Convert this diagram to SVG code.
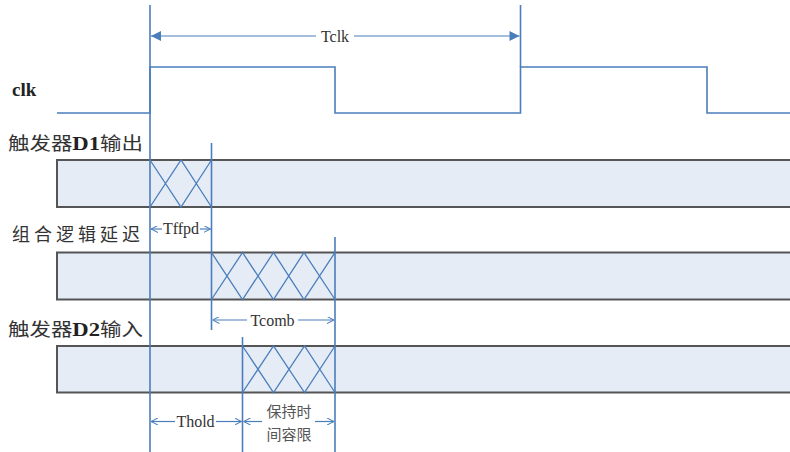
<svg xmlns="http://www.w3.org/2000/svg" width="790" height="452" viewBox="0 0 790 452">
<defs>
<marker id="fa" viewBox="0 0 10 10" refX="10" refY="5" markerWidth="11" markerHeight="10" markerUnits="userSpaceOnUse" orient="auto-start-reverse">
<path d="M0,0 L10,5 L0,10 z" fill="#4a7ebb"/>
</marker>
<marker id="oa" viewBox="0 0 10 10" refX="10" refY="5" markerWidth="7" markerHeight="7" markerUnits="userSpaceOnUse" orient="auto-start-reverse">
<path d="M0,0 L10,5 L0,10" fill="none" stroke="#4a7ebb" stroke-width="1.5"/>
</marker>
</defs>
<style>
.w{fill:none;stroke:#4a7ebb;stroke-width:1.6}
.g{fill:none;stroke:#4a7ebb;stroke-width:1.3}
.bar{fill:#e5ecf6;stroke:#555;stroke-width:2}
.lab{font-family:"Liberation Serif","Noto Sans CJK SC",serif;font-size:19px;fill:#222}
.cjk{font-family:"Noto Sans CJK SC","Liberation Serif",sans-serif;font-size:18px;fill:#333}
.t{font-family:"Liberation Serif",serif;font-size:16px;fill:#333;text-anchor:middle}
.c{font-family:"Noto Sans CJK SC",sans-serif;font-size:15px;fill:#555;text-anchor:middle}
.dim{fill:none;stroke:#4a7ebb;stroke-width:1.2}
</style>
<rect width="790" height="452" fill="#fff"/>

<g id="bars">
<rect id="bar1" class="bar" x="57" y="160" width="740" height="47"/>
<rect id="bar2" class="bar" x="57" y="252.5" width="740" height="47"/>
<rect id="bar3" class="bar" x="57" y="346" width="740" height="46.5"/>
</g>

<g id="labels">
<text id="lbl-clk" x="12" y="96" class="lab" font-weight="bold" font-size="17">clk</text>
<text id="lbl-d1" x="8" y="150" class="cjk" textLength="135" lengthAdjust="spacingAndGlyphs">触发器<tspan font-family="Liberation Serif" font-weight="bold" font-size="19" fill="#222">D1</tspan>输出</text>
<text id="lbl-comb" x="12" y="241" class="cjk" textLength="128" lengthAdjust="spacing">组合逻辑延迟</text>
<text id="lbl-d2" x="8" y="336" class="cjk" textLength="135" lengthAdjust="spacingAndGlyphs">触发器<tspan font-family="Liberation Serif" font-weight="bold" font-size="19" fill="#222">D2</tspan>输入</text>
</g>

<g id="clk-wave">
<polyline class="w" points="57,113 150,113 150,67 335,67 335,113 520.5,113 520.5,67 707,67 707,113 790,113"/>
</g>

<g id="hatch">
<path class="g" d="M150,160 L181,207 L211.5,160 M150,207 L181,160 L211.5,207"/>
<path class="g" d="M211.5,252.5 L242.5,299.5 L273.5,252.5 L304,299.5 L335,252.5 M211.5,299.5 L242.5,252.5 L273.5,299.5 L304,252.5 L335,299.5"/>
<path class="g" d="M242.5,346 L273.5,392.5 L304.5,346 L335,392.5 M242.5,392.5 L273.5,346 L304.5,392.5 L335,346"/>
</g>

<g id="connectors">
<line class="w" x1="150" y1="5" x2="150" y2="452"/>
<line class="w" x1="520.5" y1="5" x2="520.5" y2="67"/>
<line class="w" x1="211.5" y1="143" x2="211.5" y2="330"/>
<line class="w" x1="335" y1="237" x2="335" y2="452"/>
<line class="w" x1="242.5" y1="337" x2="242.5" y2="452"/>

<line class="dim" x1="151" y1="36" x2="316" y2="36" marker-start="url(#fa)"/>
<line class="dim" x1="354" y1="36" x2="519.5" y2="36" marker-end="url(#fa)"/>
<line class="dim" x1="151" y1="229" x2="162" y2="229" marker-start="url(#oa)"/>
<line class="dim" x1="200" y1="229" x2="210.5" y2="229" marker-end="url(#oa)"/>
<line class="dim" x1="212.5" y1="320" x2="247" y2="320" marker-start="url(#oa)"/>
<line class="dim" x1="298" y1="320" x2="334" y2="320" marker-end="url(#oa)"/>
<line class="dim" x1="151" y1="421.5" x2="175" y2="421.5" marker-start="url(#oa)"/>
<line class="dim" x1="216" y1="421.5" x2="241.5" y2="421.5" marker-end="url(#oa)"/>
<line class="dim" x1="243.5" y1="421.5" x2="262" y2="421.5" marker-start="url(#oa)"/>
<line class="dim" x1="315" y1="421.5" x2="334" y2="421.5" marker-end="url(#oa)"/>
</g>

<g id="dim-labels">
<text class="t" x="335" y="42" font-size="17">Tclk</text>
<text class="t" x="181" y="234" font-size="15">Tffpd</text>
<text class="t" x="272.5" y="326">Tcomb</text>
<text class="t" x="195.5" y="427">Thold</text>
<text class="c" x="289" y="417">保持时</text>
<text class="c" x="289" y="440">间容限</text>
</g>
</svg>
